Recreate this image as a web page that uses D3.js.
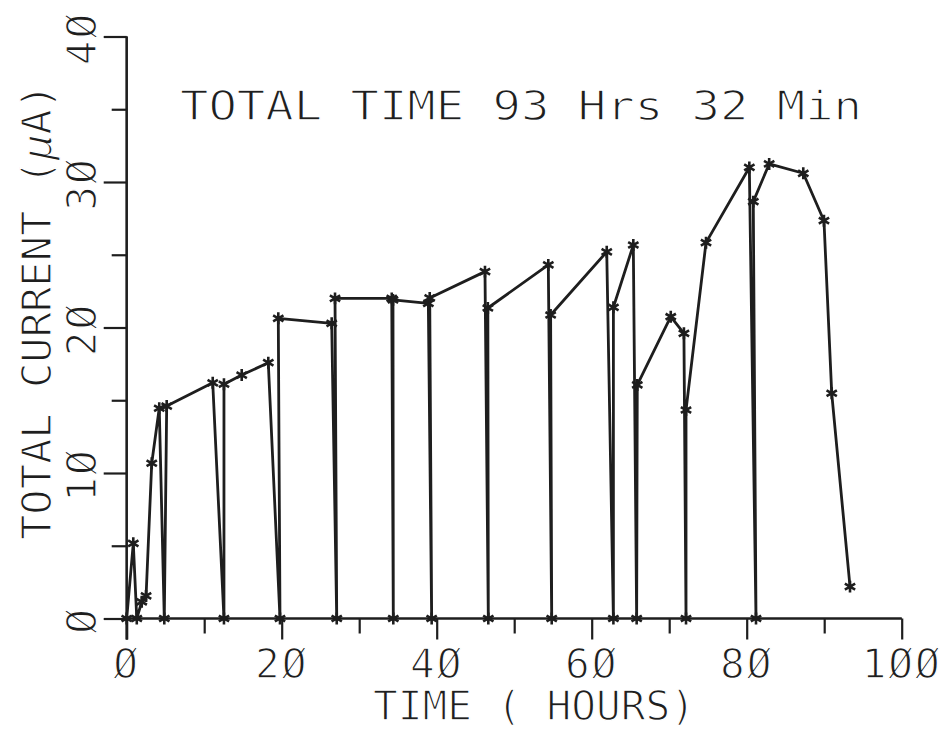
<!DOCTYPE html>
<html>
<head>
    <title>Total current</title>
    <meta charset="utf-8" />
    <script src="https://cdn.jsdelivr.net/npm/d3@7"></script>
    <style>
        body { margin: 0; background: #fff; }
        /* white outline over the glyphs thins them to a pen plotter line */
        text { font-family: "DejaVu Sans Mono", monospace; fill: #1e1e1e;
               stroke: #fff; stroke-width: 1.3px; paint-order: fill stroke; }
    </style>
</head>
<body>
<div id="chart"></div>
<script>

// time in hours, total current in microamps in drawing order
var hours = [0, 0.85, 1.3, 1.94, 2.5, 3.23, 4.2, 4.85, 5.16, 11.1, 12.55, 12.55, 14.84, 18.27,
    19.78, 19.56, 26.45, 27.1, 26.88, 34.2, 34.4, 34.36, 38.92, 39.35, 39.1, 46.23, 46.66, 46.6,
    54.4, 54.84, 54.7, 61.94, 62.8, 62.8, 65.37, 65.8, 65.88, 70.2, 71.9, 72.17, 72.17, 74.75,
    80.34, 81.2, 80.85, 82.9, 87.3, 89.97, 90.97, 93.33];
var current = [0, 5.17, 0, 1.15, 1.55, 10.67, 14.45, 0, 14.6, 16.2, 0, 16.1, 16.73, 17.58,
    0, 20.63, 20.29, 0, 22.0, 22.0, 0, 21.9, 21.66, 0, 22.03, 23.84, 0, 21.34,
    24.3, 0, 20.86, 25.2, 0, 21.39, 25.67, 0, 16.05, 20.74, 19.6, 0, 14.33, 25.83,
    31.0, 0, 28.65, 31.24, 30.6, 27.34, 15.48, 2.19];

var xTicks = [0, 20, 40, 60, 80, 100];
var xMinor = [10, 30, 50, 70, 90];
var yTicks = [0, 10, 20, 30, 40];
var yMinor = [5, 15, 25, 35];

var titleText = "TOTAL TIME 93 Hrs 32 Min";
var xTitle = "TIME ( HOURS)";

var width = 945, height = 730;
var ink = "#1e1e1e";

var svg = d3.select("#chart").append("svg")
    .attr("width", width)
    .attr("height", height);

svg.append("rect").attr("width", width).attr("height", height).attr("fill", "#fff");

var x = d3.scaleLinear().domain([0, 100]).range([126.7, 901.7]);
var y = d3.scaleLinear().domain([0, 40]).range([618.5, 36.5]);

// plotter style slashed zero
function fmt(v) { return String(v).replace(/0/g, "\u00D8"); }

/* x axis: major ticks long, minor ticks short, hanging below */
var gx = svg.append("g").attr("transform", "translate(0," + y(0) + ")");
gx.call(d3.axisBottom(x).tickValues(xTicks).tickSize(21).tickFormat(""));
gx.append("g").call(d3.axisBottom(x).tickValues(xMinor).tickSize(15).tickFormat(""));
gx.selectAll("path").attr("d", "M" + x(0) + ",0H" + x(100));
gx.selectAll("path, line").attr("stroke", ink).attr("stroke-width", 2.2);

gx.selectAll("text.lab")
    .data(xTicks)
    .enter()
    .append("text")
    .attr("class", "lab")
    .attr("x", function(d) { return x(d); })
    .attr("y", 59)
    .attr("text-anchor", "middle")
    .attr("font-size", 41)
    .attr("letter-spacing", 2)
    .text(fmt);

/* y axis: ticks to the left, labels turned on their side */
var gy = svg.append("g").attr("transform", "translate(" + x(0) + ",0)");
gy.call(d3.axisLeft(y).tickValues(yTicks).tickSize(23).tickFormat(""));
gy.append("g").call(d3.axisLeft(y).tickValues(yMinor).tickSize(15).tickFormat(""));
gy.selectAll("path").attr("d", "M0," + y(40) + "V" + (y(0) + 21));
gy.selectAll("path, line").attr("stroke", ink).attr("stroke-width", 2.2);

gy.selectAll("text.lab")
    .data(yTicks)
    .enter()
    .append("text")
    .attr("class", "lab")
    .attr("transform", function(d) { return "translate(-31," + (y(d) + 2) + ") rotate(-90)"; })
    .attr("text-anchor", "middle")
    .attr("font-size", 41)
    .attr("letter-spacing", 2)
    .text(fmt);

/* axis titles */
svg.append("text")
    .attr("x", 373)
    .attr("y", 720)
    .attr("font-size", 40)
    .attr("textLength", 322)
    .attr("lengthAdjust", "spacingAndGlyphs")
    .text(xTitle);

var yl = svg.append("text")
    .attr("transform", "translate(51,540) rotate(-90)")
    .attr("font-size", 41)
    .attr("textLength", 456)
    .attr("lengthAdjust", "spacingAndGlyphs");
yl.append("tspan").text("TOTAL CURRENT (");
yl.append("tspan").attr("font-style", "italic").text("\u03BC");
yl.append("tspan").text("A)");

svg.append("text")
    .attr("x", 180)
    .attr("y", 120)
    .attr("font-size", 41)
    .attr("textLength", 682)
    .attr("lengthAdjust", "spacingAndGlyphs")
    .text(titleText);

/* the trace */
var pts = hours.map(function(h, i) { return [h, current[i]]; });

var line = d3.line()
    .x(function(d) { return x(d[0]); })
    .y(function(d) { return y(d[1]); });

svg.append("path")
    .datum(pts)
    .attr("d", line)
    .attr("fill", "none")
    .attr("stroke", ink)
    .attr("stroke-width", 2.8)
    .attr("stroke-linejoin", "round");

var star = d3.symbol().type(d3.symbolAsterisk).size(100);

svg.append("g").selectAll("path")
    .data(pts)
    .enter()
    .append("path")
    .attr("transform", function(d) { return "translate(" + x(d[0]) + "," + y(d[1]) + ")"; })
    .attr("d", star)
    .attr("fill", "none")
    .attr("stroke", ink)
    .attr("stroke-width", 2.6);

</script>
</body>
</html>
